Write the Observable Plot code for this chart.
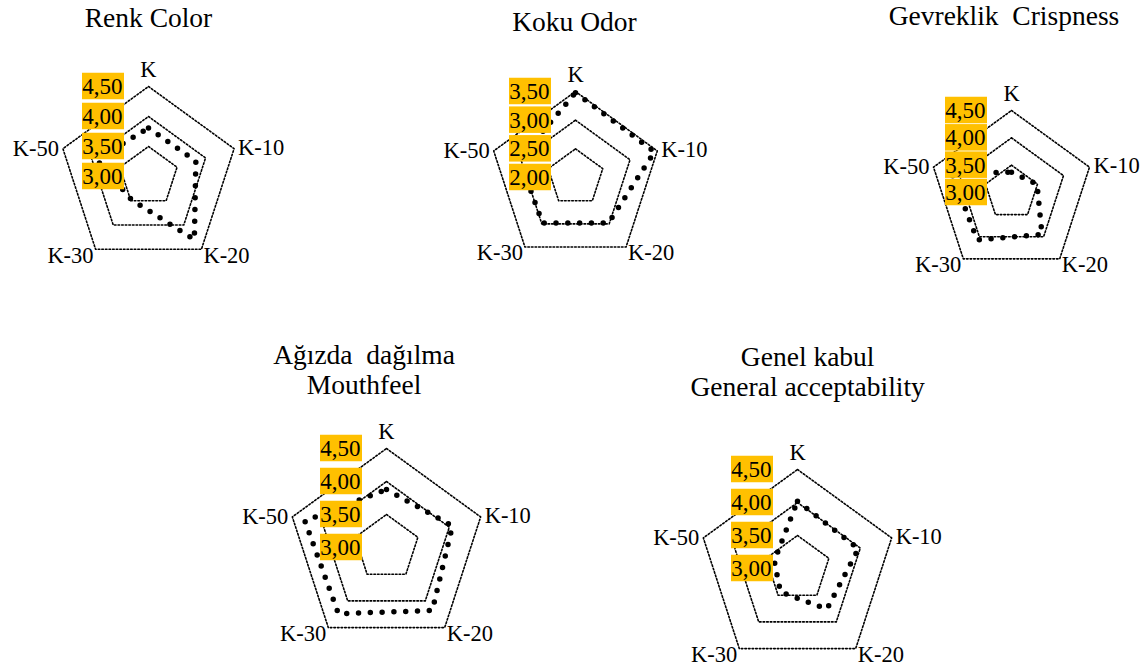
<!DOCTYPE html>
<html>
<head>
<meta charset="utf-8">
<script src="https://cdn.jsdelivr.net/npm/d3@7"></script>
<script src="https://cdn.jsdelivr.net/npm/@observablehq/plot@0.6"></script>
<style>
  html, body { margin: 0; padding: 0; background: #fff; }
  #wrap { position: relative; width: 1147px; height: 669px; overflow: hidden; background: #fff; color: #000;
          font-family: "Liberation Serif", "Times New Roman", serif; }
  .panel { position: absolute; }
  .panel svg { max-width: none !important; display: block; }
  .title { position: absolute; font-size: 27.5px; line-height: 30px; white-space: pre; text-align: center; transform: translateX(-50%); }
</style>
</head>
<body>
<div id="wrap"></div>
<script>
// ---- data ----
const categories = ["K", "K-10", "K-20", "K-30", "K-50"];

const colorScores  = [3.81, 3.83, 4.30, 3.48, 3.91];
const odorScores   = [3.48, 3.45, 2.98, 2.98, 3.03];
const crispScores  = [3.37, 3.49, 3.95, 4.07, 4.15];
const mouthScores  = [3.88, 4.05, 4.18, 4.24, 4.30];
const acceptScores = [4.02, 3.97, 3.76, 3.44, 3.37];

const ticksColor  = [3.0, 3.5, 4.0, 4.5];
const ticksOdor   = [2.0, 2.5, 3.0, 3.5];
const ticksCrisp  = [3.0, 3.5, 4.0, 4.5];
const ticksMouth  = [3.0, 3.5, 4.0, 4.5];
const ticksAccept = [3.0, 3.5, 4.0, 4.5];

const titleColor  = ["Renk Color"];
const titleOdor   = ["Koku Odor"];
const titleCrisp  = ["Gevreklik  Crispness"];
const titleMouth  = ["Ağızda  dağılma", "Mouthfeel"];
const titleAccept = ["Genel kabul", "General acceptability"];

// ---- layout (page pixels) ----
const panels = [
  {values: colorScores,  ticks: ticksColor,  title: titleColor,  cx: 147.5, cy: 175.5, R: 90, tx: 148.5, tb: 28},
  {values: odorScores,   ticks: ticksOdor,   title: titleOdor,   cx: 575,   cy: 176.5, R: 86, tx: 574.5, tb: 32},
  {values: crispScores,  ticks: ticksCrisp,  title: titleCrisp,  cx: 1010.5,cy: 191.5, R: 82, tx: 1004,  tb: 26},
  {values: mouthScores,  ticks: ticksMouth,  title: titleMouth,  cx: 385.5, cy: 546.5, R: 99, tx: 364,   tb: 365},
  {values: acceptScores, ticks: ticksAccept, title: titleAccept, cx: 796.7, cy: 567.8, R: 99, tx: 807.7, tb: 366.5}
];

const labelStyle = [
  {dx: 0,  dy: -17, anchor: "middle"},
  {dx: 4,  dy: -1,  anchor: "start"},
  {dx: 2,  dy: 6,   anchor: "start"},
  {dx: -2, dy: 6,   anchor: "end"},
  {dx: -4, dy: 0,   anchor: "end"}
];

const fmt = v => v.toFixed(2).replace(".", ",");
const FONT = "'Liberation Serif', 'Times New Roman', serif";

function radar(p) {
  const {values, ticks, R} = p;
  const lo = ticks[0], hi = ticks[ticks.length - 1];
  const n = categories.length;
  const norm = v => (v - lo) / (hi - lo);
  const ang = i => Math.PI / 2 - i * 2 * Math.PI / n;

  const pts = categories.map((c, i) => ({cat: c, x: norm(values[i]) * Math.cos(ang(i)), y: norm(values[i]) * Math.sin(ang(i))}));
  const dataLine = [...pts, pts[0]];

  const grid = ticks.slice(1).flatMap(t => {
    const ring = categories.map((c, i) => ({t, x: norm(t) * Math.cos(ang(i)), y: norm(t) * Math.sin(ang(i))}));
    return [...ring, ring[0]];
  });

  const verts = categories.map((c, i) => ({cat: c, i, x: Math.cos(ang(i)), y: Math.sin(ang(i))}));
  const tickRows = ticks.map(t => ({t, label: fmt(t), r: norm(t)}));

  const hw = 175, ht = R + 40, hb = 0.809 * R + 40;
  const boxH = 26.5 / R, boxL = -66 / R, boxR = -24 / R;

  const marks = [
    Plot.line(grid, {x: "x", y: "y", z: "t", stroke: "#000", strokeWidth: 1.6, strokeDasharray: "1.6 2"}),
    Plot.line(dataLine, {x: "x", y: "y", stroke: "#000", strokeWidth: 5.5, strokeDasharray: "0 11.8", strokeLinecap: "round"}),
    Plot.rect(tickRows, {x1: () => boxL, x2: () => boxR, y1: d => d.r - boxH / 2, y2: d => d.r + boxH / 2, fill: "#FFC000"}),
    Plot.text(tickRows, {x: () => boxR, y: "r", text: "label", textAnchor: "end", dx: -2, fontSize: 23, fill: "#000", fontFamily: FONT}),
    ...verts.map((v, i) => Plot.text([v], {x: "x", y: "y", text: "cat", textAnchor: labelStyle[i].anchor,
      dx: labelStyle[i].dx, dy: labelStyle[i].dy, fontSize: 22.5, fill: "#000", fontFamily: FONT}))
  ];

  const svg = Plot.plot({
    width: 2 * hw, height: ht + hb,
    marginTop: 0, marginRight: 0, marginBottom: 0, marginLeft: 0,
    x: {domain: [-hw / R, hw / R], axis: null},
    y: {domain: [-hb / R, ht / R], axis: null},
    style: {background: "transparent", overflow: "visible", fontFamily: FONT, color: "#000"},
    marks
  });
  svg.style.maxWidth = "none";
  const div = document.createElement("div");
  div.className = "panel";
  div.style.left = (p.cx - hw) + "px";
  div.style.top = (p.cy - ht) + "px";
  div.style.width = (2 * hw) + "px";
  div.appendChild(svg);
  return div;
}

const wrap = document.getElementById("wrap");
for (const p of panels) {
  wrap.appendChild(radar(p));
  const t = document.createElement("div");
  t.className = "title";
  t.textContent = p.title.join("\n");
  t.style.left = p.tx + "px";
  t.style.top = (p.tb - 25) + "px";
  wrap.appendChild(t);
}
</script>
</body>
</html>
